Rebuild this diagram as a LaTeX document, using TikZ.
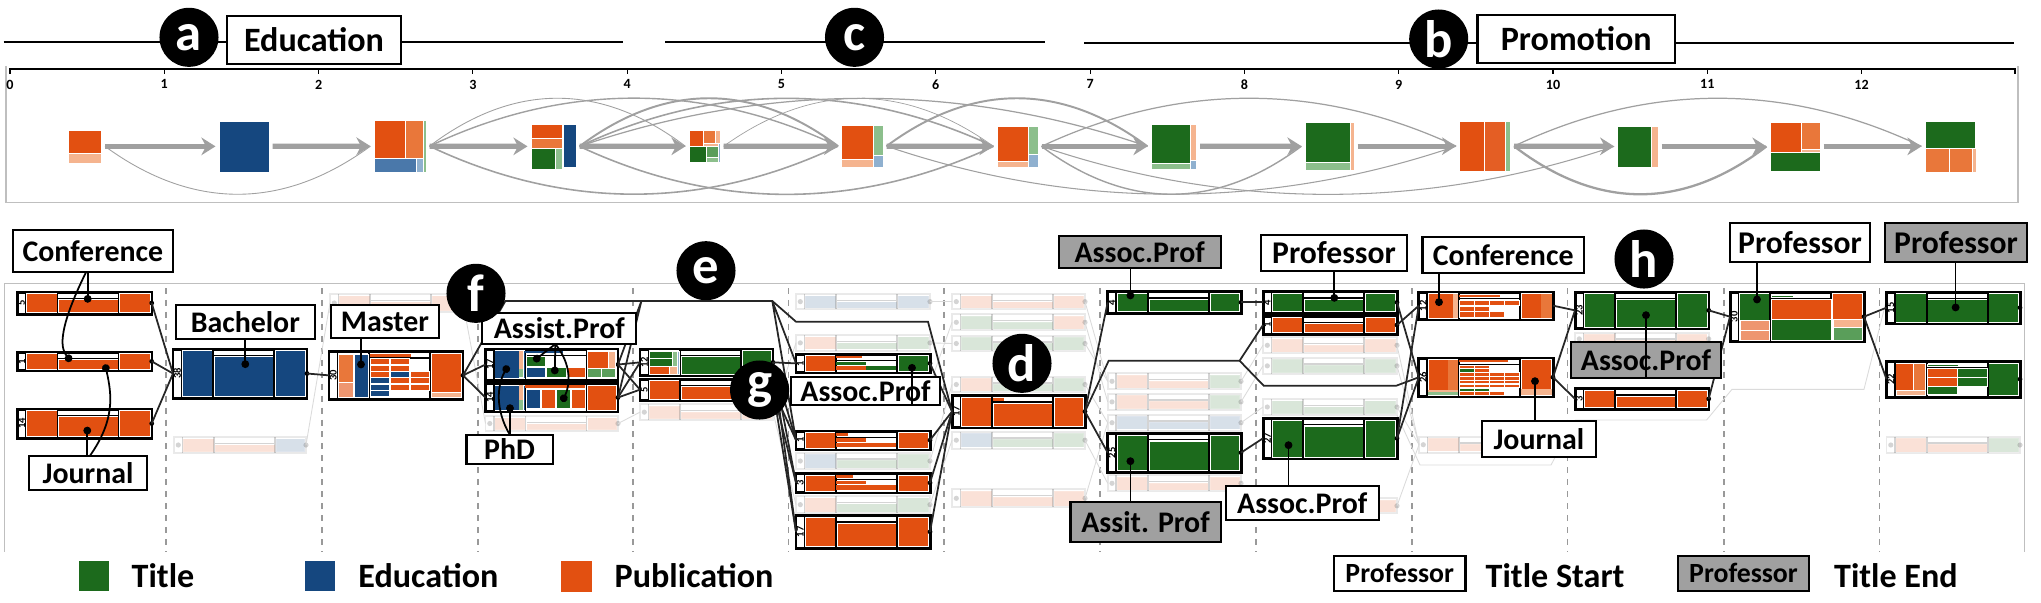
\documentclass[tikz,border=0pt]{standalone}
\usepackage{fontspec}
\setmainfont{Carlito}
\usepackage{tikz}
\usetikzlibrary{positioning}
\usetikzlibrary{arrows.meta}
\usetikzlibrary{calc}
\usetikzlibrary{fit}

\definecolor{pub}{HTML}{E25011}
\definecolor{pubb}{HTML}{E9773A}
\definecolor{pubc}{HTML}{F5B48F}
\definecolor{ttl}{HTML}{1C6A1C}
\definecolor{ttlb}{HTML}{5A9E5A}
\definecolor{ttlc}{HTML}{8CBF8C}
\definecolor{edu}{HTML}{15477F}
\definecolor{edub}{HTML}{4A78AA}
\definecolor{educ}{HTML}{8FB0CF}
\definecolor{boxgray}{HTML}{A0A0A0}

\tikzset{
  tnode/.style={inner sep=0pt, outer sep=1pt},
  tcell/.style={draw=white, line width=.12pt},
  tstep/.style={draw=boxgray, line width=1.5pt, -{Stealth[length=4pt,width=5pt]}},
  tarc/.style={draw=boxgray},
  cardh/.style={draw=black, fill=white, line width=.85pt, inner sep=0pt, outer sep=0pt},
  cardf/.style={draw=gray, fill=white, line width=.5pt, inner sep=0pt, outer sep=0pt},
  cell/.style={draw=white, line width=.1pt},
  numtxt/.style={rotate=90, inner sep=0pt, font=\bfseries\fontsize{3}{3}\selectfont},
  hlink/.style={draw=black!85, line width=.5pt},
  flink/.style={draw=black!14, line width=.25pt},
  labw/.style={draw=black, fill=white, line width=.6pt, inner sep=0pt, outer sep=0pt},
  labg/.style={labw, fill=boxgray},
  every label/.style={inner sep=0pt, font=\bfseries\fontsize{8.5}{9}\selectfont},
  lbig/.style={font=\bfseries\fontsize{9}{9}\selectfont},
  lhuge/.style={font=\bfseries\fontsize{9.7}{10}\selectfont},
  lsmall/.style={font=\bfseries\fontsize{7.9}{8}\selectfont},
  tagdot/.style={circle, fill=black, text=white, minimum size=.59cm, inner sep=0pt,
    font=\bfseries\fontsize{15}{15}\selectfont},
  callout/.style={line width=.5pt, -{Circle[length=2.2pt]}},
  legtxt/.style={anchor=west, inner sep=0pt, font=\bfseries\fontsize{9.7}{10}\selectfont},
}

% x1,y1,x2,y2, left, middle, right
\newcommand{\cardfill}[7]{
  \fill[#5,cell] (#1+9,#2+1.5) rectangle (#1+39.5,#4-1.5);
  \fill[#6,cell] (#1+41,#2+7.5) rectangle (#1+100.5,#4-1.5);
  \fill[#7,cell] (#1+102,#2+1.5) rectangle (#3-1.5,#4-1.5);
  \draw[line width=.45pt] (#1+40.2,#2) -- (#1+40.2,#4) (#1+101.2,#2) -- (#1+101.2,#4)
    (#1+41,#2+6.3) -- (#1+100.5,#2+6.3) (#1+8.4,#2) -- (#1+8.4,#4);
}
% name, x1,y1,x2,y2, left, middle, right, number
\newcommand{\hcard}[9]{
  \node[cardh, fit={(#2,#3) (#4,#5)}] (#1) {};
  \cardfill{#2}{#3}{#4}{#5}{#6}{#7}{#8}
  \node[numtxt] (#1n) at ($(#1.west)+(4.3,0)$) {#9};
  \fill (#1.east) circle (2.4);
}
% name, x1,y1,x2,y2, left, middle, right
\newcommand{\fcard}[8]{
  \begin{scope}[opacity=.17]
  \node[cardf, fit={(#2,#3) (#4,#5)}] (#1) {};
  \cardfill{#2}{#3}{#4}{#5}{#6}{#7}{#8}
  \fill[black] ($(#1.west)+(4.3,0)$) circle (2.6);
  \fill[black] (#1.east) circle (2.6);
  \end{scope}
}

\begin{document}
\begin{tikzpicture}[x=0.01cm, y=-0.01cm]
  \useasboundingbox (0,0) rectangle (2041,602);

  % phase lines
  \coordinate (p1) at (3.5,42.3);   \coordinate (p2) at (622.8,42.3);
  \coordinate (p3) at (665,42.3);   \coordinate (p4) at (1045,42.3);
  \coordinate (p5) at (1084,42.7);  \coordinate (p6) at (2014,42.7);
  \draw[line width=.55pt] (p1) -- (p2) (p3) -- (p4) (p5) -- (p6);
  \node[labw, fit={(227,16) (401,64)}, label={[lhuge]center:Education}] (educ) {};
  \node[labw, fit={(1477.5,15) (1675,63)}, label={[lhuge]center:Promotion}] (promo) {};
  \node[tagdot] (taga) at (189,37.3) {a};
  \node[tagdot] (tagc) at (854.5,37.3) {c};
  \node[tagdot] (tagb) at (1438.7,39) {b};

  % time axis and top panel
  \draw[black!25, line width=.3pt] (6,66) -- (6,202.3) -- (2018,202.3) -- (2018,66);
  \draw[line width=.4pt] (10,74) -- (10,69) -- (2015,69) -- (2015,74);
  \foreach \i in {0,...,12}
    \draw[line width=.3pt] (10+154.3*\i,69) -- ++(0,5)
      node[below=1.5pt, inner sep=0pt, font=\bfseries\fontsize{4}{4}\selectfont] (tk\i) {\i};

  % top sequence
  \foreach \n/\a/\b/\c/\d in {0/68/129.7/101.5/163, 1/219/121/269/171.7, 2/374/120.3/426/172,
      3/531/124/576/168.7, 4/689/130.3/720/162.3, 5/841.6/125.3/883/167, 6/997/126/1038/166.7,
      7/1151/123.7/1196.5/169, 8/1305/122.3/1354/170, 9/1459.6/121/1510.5/171.3,
      10/1617.7/126/1658/166.7, 11/1770/121.7/1820/171, 12/1925/120.7/1976/172}
    \node[tnode, fit={(\a,\b) (\c,\d)}] (t\n) {};

  \foreach \x/\y/\X/\Y/\k in {68/129.7/101.5/153.3/pub, 68/153.3/101.5/163/pubc,
      219/121/269/171.7/edu,
      374/120.3/405/158.3/pub, 405/120.3/423.5/158.3/pubb, 423.5/120.3/426/172/ttlc,
      374/158.3/416.5/172/edub, 416.5/158.3/423.5/172/educ,
      531/124/562.5/138.3/pub, 531/138.3/562.5/148.3/pubb, 531/148.3/555/168.7/ttl,
      555/148.3/562.5/168.7/ttlc, 563/124/576/167.3/edu,
      689/130.3/703.7/146/pub, 703.7/130.3/715/143.3/pubb, 715/130.3/720/143.3/pubc,
      703.7/143.3/718/146/pubc, 689/146/706.3/162.3/ttl, 706.3/146/718/157.3/ttlb,
      706.3/157.3/718/162.3/ttlc, 718/143.3/720/162.3/educ,
      841.6/125.3/873.3/159.3/pub, 841.6/159.3/873.3/167/pubc, 873.3/125.3/883/155/ttlc,
      873.3/155/883/167/educ,
      997/126/1028.2/161/pub, 997/161/1028.2/166.7/pubc, 1028.2/126/1038/154.3/ttlc,
      1028.2/154.3/1038/166.7/educ,
      1151/123.7/1190.5/163/ttl, 1151/163/1190.5/169/ttlc, 1190.5/123.7/1196.5/160.3/pubc,
      1190.5/160.3/1196.5/169/educ,
      1305/122.3/1350/161.7/ttl, 1305/161.7/1350/170/ttlc, 1350/122.3/1354/170/pubc,
      1459.6/121/1484/171.3/pub, 1484/121/1505/171.3/pub!92!white, 1505/121/1510.5/171.3/ttlc,
      1617.7/126/1651/166.7/ttl, 1651/126/1658/166.7/pubc,
      1770/121.7/1800.7/151.7/pub, 1800.7/121.7/1820/149/pubb, 1800.7/149/1820/151.7/pubc,
      1770/151.7/1820/171/ttl,
      1925/120.7/1975.5/147.7/ttl, 1925/147.7/1949.5/172/pubb, 1949.5/147.7/1972.2/172/pubb,
      1972.2/147.7/1976/172/pubc}
    \fill[\k,tcell] (\x,\y) rectangle (\X,\Y);

  \foreach \a/\b/\w in {2/4/.25, 2/5/.4, 3/5/.55, 3/6/.45, 3/7/.35, 4/6/.2, 5/7/.55, 6/9/.35, 9/12/.35}
    \draw[tarc, line width=\w pt] (t\a.east) .. controls ($(t\a.east)!.33!(t\b.west)+(0,-64)$)
      and ($(t\a.east)!.67!(t\b.west)+(0,-64)$) .. (t\b.west);
  \foreach \a/\b/\w in {0/2/.25, 2/5/.45, 3/6/.45, 5/9/.3, 6/8/.4, 6/10/.3, 9/11/.65}
    \draw[tarc, line width=\w pt] (t\a.east) .. controls ($(t\a.east)!.33!(t\b.west)+(0,64)$)
      and ($(t\a.east)!.67!(t\b.west)+(0,64)$) .. (t\b.west);
  \foreach \a/\b in {0/1,1/2,2/3,3/4,4/5,5/6,6/7,7/8,8/9,9/10,10/11,11/12}
    \draw[tstep] (t\a.east) -- (t\b.west);

  % lower panel
  \draw[black!25, line width=.3pt] (4.7,551.7) -- (4.7,283.3) -- (2024.7,283.3) -- (2024.7,551.7);
  \foreach \x in {166,322,478,633,788.5,944,1100,1256,1412,1567.6,1724,1879.6}
    \draw[black!40, line width=.3pt, dash pattern=on 1.7pt off 1.7pt] (\x,288) -- (\x,551.7);

  % faded cards
  \fcard{fb}{174}{437}{306}{453}{pub}{pub}{edu}
  \fcard{fc}{330}{294}{463}{312}{pub}{pub}{pub}
  \fcard{fd}{485.5}{416}{618}{431}{pub}{pub}{pub}
  \fcard{fe}{640}{404.3}{773}{420}{pub}{pub}{pub}
  \fcard{ffa}{796}{294}{930}{309.3}{edu}{edu}{edu}
  \fcard{ffb}{796}{335}{930}{350.7}{pub}{ttl}{ttl}
  \fcard{ffc}{796}{376.7}{930}{392.3}{pub}{edu}{ttl}
  \fcard{ffd}{796}{452.7}{930}{469.3}{edu}{ttl}{ttl}
  \fcard{ffe}{796}{496}{930}{513.3}{pub}{ttl}{ttl}
  \fcard{fga}{952}{294}{1085}{309.3}{pub}{pub}{pub}
  \fcard{fgb}{952}{314.3}{1085}{330.3}{ttl}{ttl}{pub}
  \fcard{fgc}{952}{335.7}{1085}{351.3}{ttl}{ttl}{ttl}
  \fcard{fgd}{952}{376.7}{1085}{392.3}{pub}{ttl}{ttl}
  \fcard{fge}{952}{431.7}{1085}{448.7}{edu}{ttl}{ttl}
  \fcard{fgf}{952}{489.3}{1085}{507.3}{pub}{pub}{pub}
  \fcard{fha}{1107.7}{373.3}{1241}{389.3}{pub}{pub}{ttl}
  \fcard{fhb}{1107.7}{393.7}{1241}{410}{pub}{pub}{ttl}
  \fcard{fhc}{1107.7}{414.7}{1241}{430.7}{edu}{edu}{edu}
  \fcard{fhd}{1107.7}{475.3}{1241}{491.3}{pub}{pub}{pub}
  \fcard{fia}{1263}{337.3}{1397}{353.3}{pub}{pub}{pub}
  \fcard{fib}{1263}{357.7}{1397}{374}{ttl}{ttl}{ttl}
  \fcard{fic}{1263}{399}{1397}{415}{ttl}{ttl}{ttl}
  \fcard{fid}{1263}{498.3}{1397}{513.3}{pub}{pub}{pub}
  \fcard{fj}{1419}{436.7}{1553}{452.7}{pub}{pub}{pub}
  \fcard{fk}{1575}{332.7}{1708.7}{345}{pub}{pub}{pub}
  \fcard{fm}{1886.5}{436.7}{2020}{453.3}{pub}{pub}{ttl}

  % faded links
  \coordinate (ga) at (1706.6,420);  \coordinate (gb) at (1732,389.3);
  \coordinate (gc) at (1864,389.3);  \coordinate (gd) at (1420,465);
  \coordinate (ge) at (1551,465);    \coordinate (gf) at (1575,420);
  \coordinate (gg) at (1886.5,300);  \coordinate (gh) at (1397,415);
  \draw[flink] (gf) -- (ga) -- (gb) -- (gc) -- (gg);
  \draw[flink] (gh) -- (gd) -- (ge) -- (gf);
  \foreach \a/\b in {fb/fc, fc/fd, fd/fe, fe/ffb, fe/ffe, ffa/fga, ffb/fgc, ffc/fgb, ffd/fgd,
      ffe/fge, fga/fha, fgb/fhb, fgc/fha, fgd/fhc, fge/fhd, fgf/fhc, fha/fia, fhb/fib, fhc/fic,
      fhd/fid, fia/fj, fib/fj, fic/fj, fid/fj}
    \draw[flink] (\a.east) -- (\b.west);

  % highlighted cards
  \hcard{ca}{17.3}{292}{151.7}{314}{pub}{pub}{pub}{5}
  \hcard{cb}{17.3}{352}{151.7}{370.7}{pub}{pub}{pub}{1}
  \hcard{cc}{17.3}{409}{151.7}{438}{pub}{pub}{pub}{14}
  \hcard{bach}{173}{349}{307}{398}{edu}{edu}{edu}{38}
  \hcard{mast}{329}{351.7}{463}{399}{white}{white}{pub}{30}
  \fill[pubb,cell] (338,353.7) rectangle (353.5,381.7);
  \fill[pub!60!white,cell] (338,381.7) rectangle (353.5,397);
  \fill[edu,cell] (354,353.7) rectangle (368.5,397);
  \fill[pub] (370,353.5) rectangle (411,356.5);
  \foreach \r/\c/\k in {0/0/pub, 0/1/pub, 1/0/pub, 1/1/pub, 2/0/pub, 2/1/edu, 2/2/pub,
      3/0/edu, 3/1/pub, 3/2/pub, 4/0/edu, 4/1/pub, 4/2/pub, 5/0/edu}
    \fill[\k,cell] (370+20*\c,358.3+6.4*\r) rectangle ++(19.6,6);
  \fill[pubc,cell] (431.5,392.5) rectangle (461,397.5);

  \hcard{asst}{485.5}{349}{618}{380}{edu}{white}{white}{17}
  \fill[white] (518.7,350.5) rectangle (524,378);
  \fill[pubc] (518.7,351) rectangle (523.3,369);
  \fill[ttlc] (518.7,369) rectangle (523.3,377.3);
  \fill[edu] (525,351) rectangle (563,353);
  \foreach \x/\y/\X/\Y/\k in {526/356/545/366.3/ttl, 526/367.3/545/377.3/edu, 545.7/367.3/566/377.3/ttl,
      566.7/367.3/585/377.3/pub, 586.7/351/608.3/367.7/pub, 608.3/351/615/367.7/pubc,
      586.7/368.3/600.7/377.3/ttlb, 600.7/368.3/615/377.3/ttlb}
    \fill[\k,cell] (\x,\y) rectangle (\X,\Y);
  \hcard{phd}{485.5}{383.3}{618}{411.7}{edu}{white}{pub}{14}
  \fill[white] (519,385) rectangle (524,410);
  \fill[pubc] (519,385) rectangle (523.3,400);
  \fill[ttlc] (519,400) rectangle (523.3,410);
  \fill[pub] (525,385) rectangle (585,387.7);
  \foreach \x/\X/\k in {525.7/540/edu, 540.7/555/pub, 555.7/570/ttl, 570.7/585/pub}
    \fill[\k,cell] (\x,389.3) rectangle (\X,408.3);

  \hcard{ea}{640}{349}{773}{375.7}{white}{ttl}{ttl}{12}
  \foreach \x/\y/\X/\Y/\k in {649/351/672/358/ttl, 649/358/672/365.7/ttl, 649/365.7/669/374/pub,
      669/365.7/677/374/pubc, 672/351/677/365.7/ttlc, 677/351/679/374/educ}
    \fill[\k,cell] (\x,\y) rectangle (\X,\Y);
  \hcard{eb}{640}{379}{773}{400.3}{pub}{pub}{pub}{5}

  \hcard{ha}{796}{354}{930}{372.7}{pub}{white}{ttl}{1}
  \hcard{hb}{796}{431}{930}{449.3}{pub}{white}{pub}{1}
  \hcard{hc}{796}{473.3}{930}{492.3}{pub}{white}{pub}{3}
  \hcard{hd}{796}{515.7}{930}{548}{pub}{pub}{pub}{17}
  \foreach \x/\y/\X/\Y/\k in {836/356/861.8/358.3/pub, 836/361.7/866/365/ttl, 836/366/866/370/pub,
      866/366/896.3/370/ttl, 836/433/848/436/pub, 836/438.3/866/442.3/pub, 836/443.3/896.3/447/pub,
      836/475.3/852.5/478.3/pub, 836/480.7/866/484.3/pub, 836/485/896.3/490/pub}
    \fill[\k] (\x,\y) rectangle (\X,\Y);

  \hcard{dd}{952}{395.7}{1085}{427.3}{pub}{pub}{pub}{17}
  \fill[pub] (993,397.7) rectangle (1004,401);

  \hcard{ia}{1107.7}{291.7}{1241}{313}{ttl}{ttl}{ttl}{4}
  \hcard{ib}{1107.7}{433.3}{1241}{472}{ttl}{ttl}{ttl}{25}
  \hcard{ja}{1263}{291.7}{1397}{313}{ttl}{ttl}{ttl}{4}
  \hcard{jb}{1263}{316}{1397}{334}{pub}{pub}{pub}{1}
  \hcard{jc}{1263}{418.3}{1397}{458.3}{ttl}{ttl}{ttl}{27}

  \hcard{ka}{1418.8}{292}{1553}{319.3}{pub}{white}{pub}{12}
  \fill[pubc] (1452.7,293.5) rectangle (1457.7,317.8);
  \fill[pub] (1459.3,294.7) rectangle (1500,297);
  \fill[pubb] (1540.7,293.5) rectangle (1551.5,317.8);
  \foreach \r/\c in {0/0, 0/1, 0/2, 0/3, 1/0, 1/1, 2/0, 2/1, 2/2}
    \fill[pub,cell] (1459.5+14.9*\c,300+5.8*\r) rectangle ++(14.5,5.3);
  \hcard{kb}{1418.8}{358}{1553}{396.5}{pub}{white}{pub}{26}
  \fill[pubb] (1447.7,359.5) rectangle (1457.7,390);
  \fill[pubc] (1428,389.7) rectangle (1457.7,392.3);
  \fill[ttlc] (1428,392.3) rectangle (1457.7,395);
  \fill[pub] (1459.3,360) rectangle (1508,362);
  \fill[pubc] (1520.7,389) rectangle (1551.5,395);
  \foreach \r/\c/\k in {0/0/pub, 0/1/pub, 1/0/ttl, 1/1/pub, 2/0/pub, 2/1/pub, 2/2/pub, 2/3/pub,
      3/0/pub, 3/1/pub, 3/2/pub, 3/3/pub, 4/0/pub, 4/1/pub, 4/2/pub, 4/3/pub,
      5/0/pub, 5/1/pub, 5/2/pub, 5/3/pub, 6/0/ttl, 6/1/ttl, 7/0/pub, 7/1/pub, 7/2/pub}
    \fill[\k,cell] (1459.5+14.9*\c,364.7+3.85*\r) rectangle ++(14.5,3.5);

  \hcard{la}{1575}{292}{1708.7}{328.7}{ttl}{ttl}{ttl}{23}
  \hcard{lb}{1575}{388.7}{1708.7}{409}{pub}{pub}{pub}{3}
  \hcard{ma}{1730}{292}{1864}{341.3}{ttl}{white}{pub}{30}
  \foreach \x/\y/\X/\Y/\k in {1740/320.3/1769.3/330/pub!60!white, 1740/330.3/1769.3/339.8/pub!60!white,
      1771.3/294.7/1793/297/ttl, 1771.3/299.3/1830.7/318.7/pub, 1771.3/319/1830.7/339.8/ttl,
      1832.7/318.7/1862.5/326.7/pubc, 1832.7/326.7/1862.5/339.8/ttlb}
    \fill[\k,cell] (\x,\y) rectangle (\X,\Y);
  \hcard{na}{1886.5}{292}{2020}{323.3}{ttl}{ttl}{ttl}{15}
  \hcard{nb}{1886.5}{361.3}{2020}{397}{pub}{white}{ttl}{22}
  \foreach \x/\y/\X/\Y/\k in {1913.3/363/1925/389.7/pubb, 1896/389.7/1925/395.5/pubc, 1927/364/1958/366/ttl,
      1927.3/368.3/1956.7/377/pub, 1957/368.3/1986.7/377/ttl, 1927.3/377.3/1956.7/386/pub,
      1957/377.3/1986.7/386/ttl, 1927.3/386.3/1956.7/394.3/ttl}
    \fill[\k,cell] (\x,\y) rectangle (\X,\Y);

  % links
  \coordinate (e1) at (505.4,301);   \coordinate (e2) at (641.4,301);
  \coordinate (e3) at (772.3,301);   \coordinate (e4) at (796,321.7);
  \coordinate (e5) at (928,321.7);   \coordinate (k1) at (1108.7,360.7);
  \coordinate (k2) at (1239.6,360.7); \coordinate (k3) at (1263.7,385.7);
  \coordinate (k4) at (1396.3,385.7);
  \draw[hlink] (mast.east) -- (e1) -- (e3) -- (e4) -- (e5) -- (dd.west);
  \draw[hlink] (dd.east) -- (k1) -- (k2) -- (jb.west);
  \draw[hlink] (k2) -- (k3) -- (k4) -- (kb.west);
  \draw[hlink] (asst.east) -- (e2) (phd.east) -- (e2) (e3) -- (ha.west) (e3) -- (hb.west);
  \foreach \a/\b in {ca/bach, cb/bach, cc/bach, bach/mast, mast/asst, mast/phd, asst/ea, asst/eb,
      phd/ea, phd/eb, ea/ha, eb/hb, ea/hb, eb/hc, ea/hc, eb/hd, ea/hd, ha/dd, hb/dd, hc/dd, hd/dd,
      dd/ia, dd/ib, ia/ja, ib/jc, ja/kb, jb/ka, jc/ka, jc/kb, ka/la, kb/la, kb/lb, la/ma, lb/ma,
      ma/na, ma/nb}
    \draw[hlink] (\a.east) -- (\b.west);

  % labels
  \node[labw, fit={(12.7,230) (173,272.3)}, label=center:Conference] (lconf) {};
  \node[labw, fit={(175.7,305.3) (315,338.7)}, label=center:Bachelor] (lbach) {};
  \node[labw, fit={(330.7,305.3) (439.3,338)}, label=center:Master] (lmast) {};
  \node[labw, fit={(29,455.7) (147,490)}, label=center:Journal] (ljour) {};
  \node[labw, fit={(482.4,313) (636.3,343.7)}, label=center:Assist.Prof] (lasst) {};
  \node[labw, fit={(466.5,435) (552.6,464)}, label=center:PhD] (lphd) {};
  \node[labw, fit={(791,377.3) (940,405.3)}, label=center:Assoc.Prof] (lassoc) {};
  \node[labg, fit={(1058.8,236) (1220.6,267.7)}, label=center:Assoc.Prof] (lassocg) {};
  \node[labw, fit={(1261,235) (1407,270.7)}, label={[lbig]center:Professor}] (lprof) {};
  \node[labg, fit={(1070.5,501.7) (1220.6,541.7)}, label=center:Assit. Prof] (lassit) {};
  \node[labw, fit={(1225.8,485.7) (1378.7,520.3)}, label=center:Assoc.Prof] (lassocb) {};
  \node[labw, fit={(1422.5,237.3) (1584,272.7)}, label=center:Conference] (lconfb) {};
  \node[labw, fit={(1481.8,421.3) (1596,457.3)}, label=center:Journal] (ljourb) {};
  \node[labg, fit={(1571,342) (1721,378)}, label=center:Assoc.Prof] (lassocc) {};
  \node[labw, fit={(1730,223.3) (1870,261.7)}, label={[lbig]center:Professor}] (lprofb) {};
  \node[labg, fit={(1885,223.3) (2027,262.3)}, label={[lbig]center:Professor}] (lprofc) {};

  % callouts
  \coordinate (da) at (87.7,302.7);   \coordinate (db) at (71,361.3);
  \coordinate (dc) at (105,364.3);    \coordinate (dd2) at (87.3,426.7);
  \coordinate (de) at (245.3,368);    \coordinate (df) at (361,368.3);
  \coordinate (dg) at (533.7,361);    \coordinate (dh) at (554.7,374.3);
  \coordinate (di) at (562.2,401.7);  \coordinate (dj) at (508.2,365.7);
  \coordinate (dk) at (510,404.3);    \coordinate (dl) at (912,364);
  \coordinate (dm) at (1130.4,299.3); \coordinate (dn) at (1334.3,301.7);
  \coordinate (do) at (1130.4,457.3); \coordinate (dp) at (1288.5,441.3);
  \coordinate (dq) at (1439,306);     \coordinate (dr) at (1535,377.3);
  \coordinate (ds) at (1646,311.3);   \coordinate (dt) at (1757,303.3);
  \coordinate (du) at (1955.6,311.3);
  \coordinate (ca1) at (86,272.3);    \coordinate (ca2) at (90,455.7);
  \coordinate (ca3) at (555.4,344);   \coordinate (ca4) at (510,435);
  \foreach \l/\d in {lconf/da, lbach/de, lmast/df, lassoc/dl, lassocg/dm, lprof/dn, lconfb/dq,
      lassocc/ds, lprofb/dt, lprofc/du}
    \draw[callout] (\d |- \l.south) -- (\d);
  \foreach \l/\d in {ljour/dd2, lphd/dk, lassit/do, lassocb/dp, ljourb/dr}
    \draw[callout] (\d |- \l.north) -- (\d);
  \draw[callout] (ca1) .. controls (55,335) and (62,350) .. (db);
  \draw[callout] (ca2) .. controls (115,420) and (112,395) .. (dc);
  \draw[callout] (ca3) -- (dg);
  \draw[callout] (ca3) -- (dh);
  \draw[callout] (ca3) .. controls (572,365) and (570,385) .. (di);
  \draw[callout] (ca4) .. controls (495,410) and (497,385) .. (dj);

  % tags
  \node[tagdot] (tagf) at (476,293.3) {f};
  \node[tagdot] (tage) at (706,270.7) {e};
  \node[tagdot] (tagg) at (759.6,390) {g};
  \node[tagdot] (tagd) at (1022,363.3) {d};
  \node[tagdot] (tagh) at (1644,259) {h};

  % legend
  \node[fit={(78.7,561) (109,591.3)}, fill=ttl, inner sep=0pt] (legt) {};
  \node[fit={(305,561) (335.3,591.3)}, fill=edu, inner sep=0pt] (lege) {};
  \node[fit={(561,561) (592,592)}, fill=pub, inner sep=0pt] (legp) {};
  \node[legtxt] (legta) at (131,576) {Title};
  \node[legtxt] (legea) at (357.7,576) {Education};
  \node[legtxt] (legpa) at (614,576) {Publication};
  \node[labw, fit={(1334,555.7) (1465.5,590.7)}, label={[lsmall]center:Professor}] (legs) {};
  \node[legtxt] (legsa) at (1485,576) {Title Start};
  \node[labg, fit={(1678,555.7) (1809,590.7)}, label={[lsmall]center:Professor}] (legf) {};
  \node[legtxt] (legfa) at (1833.4,576) {Title End};
\end{tikzpicture}
\end{document}
